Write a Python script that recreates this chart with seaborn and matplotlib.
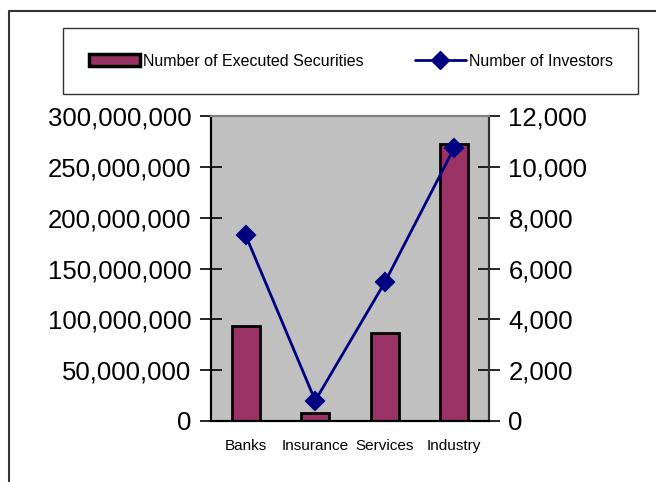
import matplotlib
matplotlib.use("Agg")
import matplotlib.pyplot as plt
from matplotlib.lines import Line2D
from matplotlib.patches import Patch
from matplotlib.ticker import FuncFormatter, MultipleLocator, FixedLocator
import numpy as np
import seaborn as sns

# data
sectors = ["Banks", "Insurance", "Services", "Industry"]
executed_securities = [93_000_000, 8_000_000, 87_000_000, 272_000_000]
investors = [7300, 800, 5450, 10750]

sns.set_style("white")
plt.rcParams["font.family"] = ["Liberation Sans", "DejaVu Sans"]
plt.rcParams.update({"text.color": "black", "xtick.color": "black",
                     "ytick.color": "black", "axes.labelcolor": "black"})

bar_color = "#993366"
line_color = "#000080"

fig = plt.figure(figsize=(6.56, 4.82), dpi=100)
ax = fig.add_axes([211 / 656, 1 - 421 / 482, 278 / 656, 305 / 482])
ax.set_facecolor("#C0C0C0")

sns.barplot(x=sectors, y=executed_securities, color=bar_color, saturation=1,
            edgecolor="black", linewidth=2, width=0.4, ax=ax)

ax2 = ax.twinx()
sns.pointplot(x=sectors, y=investors, color=line_color, markers="D",
              markersize=9, linewidth=2, ax=ax2)

ax.set_xlim(-0.5, 3.5)
ax.set_ylim(0, 300_000_000)
ax2.set_ylim(0, 12000)
ax.yaxis.set_major_locator(MultipleLocator(50_000_000))
ax2.yaxis.set_major_locator(MultipleLocator(2000))
fmt = FuncFormatter(lambda v, p: f"{v:,.0f}")
ax.yaxis.set_major_formatter(fmt)
ax2.yaxis.set_major_formatter(fmt)

ax.set_xticks(range(len(sectors)))
ax.set_xticklabels(sectors, fontsize=11)
ax.xaxis.set_minor_locator(FixedLocator([-0.5, 0.5, 1.5, 2.5, 3.5]))
ax.tick_params(axis="x", which="major", length=0, pad=13, labelcolor="black")
ax.tick_params(axis="x", which="minor", direction="inout", length=12, width=1.2, color="black")
ax.tick_params(axis="y", direction="inout", length=16, width=1.2, color="black",
               labelsize=18.5, pad=6, left=True, labelcolor="black")
ax2.tick_params(axis="y", direction="inout", length=16, width=1.2, color="black",
                labelsize=18.5, pad=6, right=True, labelcolor="black")

for a in (ax, ax2):
    a.set_xlabel("")
    a.set_ylabel("")
    for s in a.spines.values():
        s.set_visible(True)
        s.set_linewidth(1.5)
    a.spines["top"].set_color("#808080")
    a.spines["left"].set_color("black")
    a.spines["bottom"].set_color("black")
    a.spines["right"].set_color("#333333")

handles = [
    Patch(facecolor=bar_color, edgecolor="black", linewidth=2.5, label="Number of Executed Securities"),
    Line2D([0], [0], color=line_color, lw=2, marker="D", markersize=9, label="Number of Investors"),
]
leg = fig.legend(handles=handles, loc="upper left", bbox_to_anchor=(63 / 656, 1 - 28 / 482),
                 ncol=2, fontsize=11.5, frameon=True, fancybox=False, borderpad=1.6,
                 handlelength=3.2, handleheight=0.7, handletextpad=0.2, columnspacing=3.2,
                 borderaxespad=0)
leg.get_frame().set_edgecolor("black")
leg.get_frame().set_linewidth(1)
for t in leg.get_texts():
    t.set_color("black")

# outer chart border (left and top)
fig.add_artist(Line2D([9 / 656, 9 / 656, 1], [0, 1 - 11 / 482, 1 - 11 / 482],
                      transform=fig.transFigure, color="#333333", lw=1.5))

fig.savefig("out.png", dpi=100)
